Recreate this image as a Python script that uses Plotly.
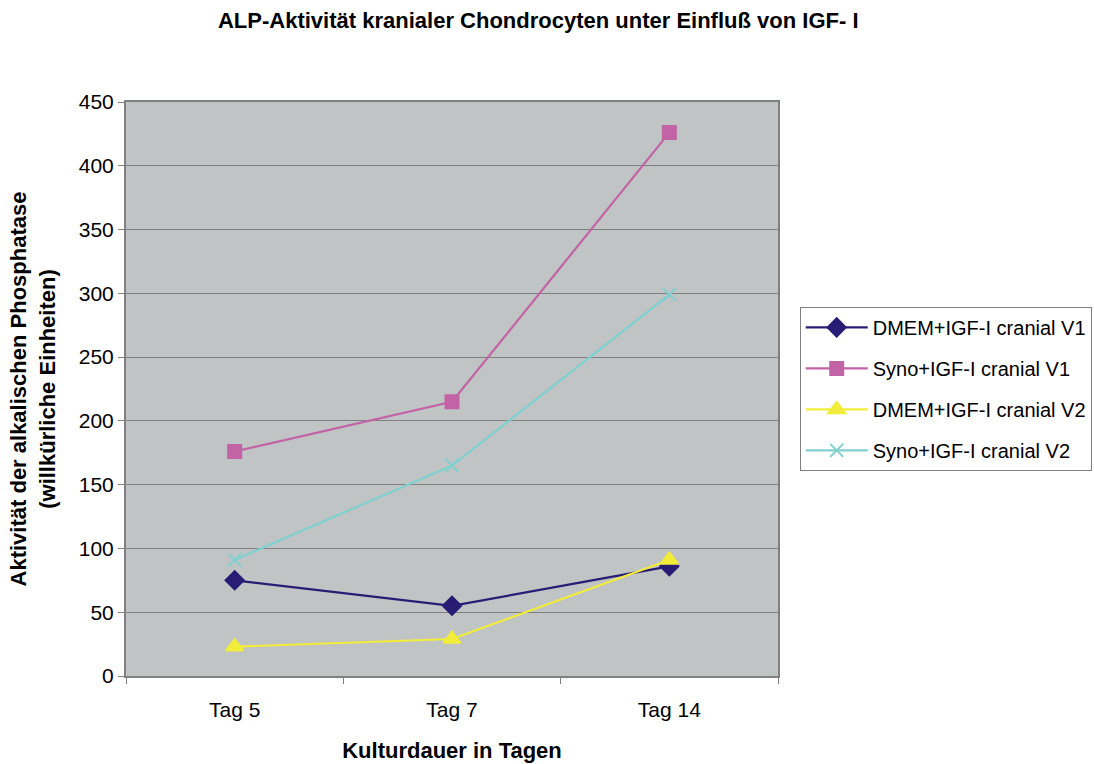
import plotly.graph_objects as go

# Culture days and measured ALP activity (arbitrary units)
tage = ["Tag 5", "Tag 7", "Tag 14"]
dmem_v1 = [75, 55, 86]
syno_v1 = [176, 215, 426]
dmem_v2 = [23, 29, 91]
syno_v2 = [91, 165, 299]

series_names = [
    "DMEM+IGF-I cranial V1",
    "Syno+IGF-I cranial V1",
    "DMEM+IGF-I cranial V2",
    "Syno+IGF-I cranial V2",
]
series_values = [dmem_v1, syno_v1, dmem_v2, syno_v2]
series_colors = ["#281C74", "#C263A6", "#F2EC3A", "#80D0D0"]
series_symbols = ["diamond", "square", "triangle-up", "x-thin-open"]
series_sizes = [14, 13, 15, 13]

font_family = "Liberation Sans, Arial, sans-serif"

fig = go.Figure()
for i, (name, vals, col, sym, sz) in enumerate(
    zip(series_names, series_values, series_colors, series_symbols, series_sizes)
):
    fig.add_trace(
        go.Scatter(
            x=tage,
            y=vals,
            name=name,
            mode="lines+markers",
            legendgroup=f"g{i}",
            line=dict(color=col, width=2.2),
            marker=dict(
                symbol=sym,
                size=sz,
                color=col,
                line=dict(color=col, width=2),
            ),
        )
    )

fig.update_layout(
    width=1094,
    height=764,
    margin=dict(l=126, r=316, t=102, b=88, autoexpand=False),
    paper_bgcolor="white",
    plot_bgcolor="#C0C4C4",
    font=dict(family=font_family, color="black", size=20),
    title=dict(
        text="<b>ALP-Aktivität kranialer Chondrocyten unter Einfluß von IGF- I</b>",
        x=0.492,
        xref="container",
        xanchor="center",
        y=0.974,
        yref="container",
        yanchor="middle",
        font=dict(size=22, family=font_family),
    ),
    legend=dict(
        xref="container",
        yref="container",
        x=0.731,
        xanchor="left",
        y=0.491,
        yanchor="middle",
        bordercolor="#808080",
        borderwidth=1,
        bgcolor="white",
        font=dict(size=20, family=font_family),
        tracegroupgap=12,
        traceorder="grouped",
        itemwidth=62,
    ),
    showlegend=True,
)

fig.update_xaxes(
    type="category",
    range=[-0.5, 2.5],
    tickson="boundaries",
    ticks="outside",
    ticklen=6,
    tickcolor="#808080",
    ticklabelstandoff=14,
    showline=True,
    linecolor="#808080",
    linewidth=2,
    mirror=True,
    showgrid=False,
    automargin=False,
    tickfont=dict(size=21),
    title=dict(
        text="<b>Kulturdauer in Tagen</b>",
        font=dict(size=22),
        standoff=22,
    ),
)

fig.update_yaxes(
    range=[0, 450],
    dtick=50,
    ticks="outside",
    ticklen=6,
    tickcolor="#808080",
    showline=True,
    linecolor="#808080",
    linewidth=2,
    mirror=True,
    showgrid=True,
    gridcolor="#808080",
    gridwidth=1,
    zeroline=False,
    automargin=False,
    tickfont=dict(size=21),
    title=dict(
        text="<b>Aktivität der alkalischen Phosphatase<br>(willkürliche Einheiten)</b>",
        font=dict(size=22),
        standoff=17,
    ),
)

fig.write_html("out.html")
